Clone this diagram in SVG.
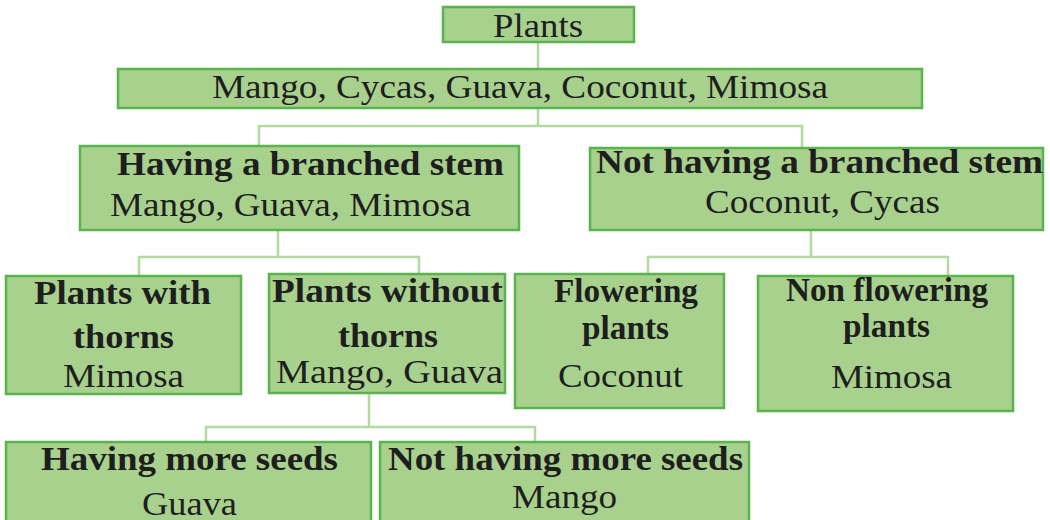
<svg xmlns="http://www.w3.org/2000/svg" width="1050" height="520" viewBox="0 0 1050 520">
<style>
.box{fill:#a9d18e;stroke:#5ab44e;stroke-width:2.5}
.t{font-size:33px;fill:#1e1e1e}
.b{font-weight:bold}
.c{fill:none;stroke:#b3daa0;stroke-width:2.5}
</style>
<rect width="1050" height="520" fill="#ffffff"/>
<g id="connectors">
<path class="c" d="M538 42V69"/>
<path class="c" d="M538 108V126H259V146M538 126H802V148"/>
<path class="c" d="M278 230V257H139V276M278 257H419V274"/>
<path class="c" d="M811 231V257H648V274M811 257H948V276"/>
<path class="c" d="M369 393V427H206V442M369 427H535V442"/>
</g>
<g font-family="Liberation Serif, serif">
<g id="n-plants">
<rect class="box" x="443" y="7" width="191" height="35"/>
<text class="t" x="493" y="37" textLength="90" lengthAdjust="spacingAndGlyphs">Plants</text>
</g>
<g id="n-all">
<rect class="box" x="118" y="69" width="804" height="39"/>
<text class="t" x="212" y="98" textLength="616" lengthAdjust="spacingAndGlyphs">Mango, Cycas, Guava, Coconut, Mimosa</text>
</g>
<g id="n-branched">
<rect class="box" x="80" y="146" width="439" height="84"/>
<text class="t b" x="117" y="175" textLength="387" lengthAdjust="spacingAndGlyphs">Having a branched stem</text>
<text class="t" x="110" y="216" textLength="361" lengthAdjust="spacingAndGlyphs">Mango, Guava, Mimosa</text>
</g>
<g id="n-notbranched">
<rect class="box" x="590" y="148" width="453" height="82"/>
<text class="t b" x="596" y="173" textLength="447" lengthAdjust="spacingAndGlyphs">Not having a branched stem</text>
<text class="t" x="705" y="213" textLength="235" lengthAdjust="spacingAndGlyphs">Coconut, Cycas</text>
</g>
<g id="n-thorns">
<rect class="box" x="6" y="276" width="235" height="118"/>
<text class="t b" x="34" y="304" textLength="177" lengthAdjust="spacingAndGlyphs">Plants with</text>
<text class="t b" x="73" y="348" textLength="101" lengthAdjust="spacingAndGlyphs">thorns</text>
<text class="t" x="63" y="387" textLength="121" lengthAdjust="spacingAndGlyphs">Mimosa</text>
</g>
<g id="n-nothorns">
<rect class="box" x="269" y="274" width="236" height="119"/>
<text class="t b" x="272" y="302" textLength="231" lengthAdjust="spacingAndGlyphs">Plants without</text>
<text class="t b" x="338" y="347" textLength="100" lengthAdjust="spacingAndGlyphs">thorns</text>
<text class="t" x="276" y="383" textLength="227" lengthAdjust="spacingAndGlyphs">Mango, Guava</text>
</g>
<g id="n-flowering">
<rect class="box" x="515" y="274" width="209" height="134"/>
<text class="t b" x="554" y="302" textLength="144" lengthAdjust="spacingAndGlyphs">Flowering</text>
<text class="t b" x="582" y="339" textLength="87" lengthAdjust="spacingAndGlyphs">plants</text>
<text class="t" x="558" y="387" textLength="125" lengthAdjust="spacingAndGlyphs">Coconut</text>
</g>
<g id="n-nonflowering">
<rect class="box" x="758" y="276" width="255" height="135"/>
<text class="t b" x="786" y="301" textLength="202" lengthAdjust="spacingAndGlyphs">Non flowering</text>
<text class="t b" x="843" y="337" textLength="87" lengthAdjust="spacingAndGlyphs">plants</text>
<text class="t" x="831" y="388" textLength="121" lengthAdjust="spacingAndGlyphs">Mimosa</text>
</g>
<g id="n-moreseeds">
<rect class="box" x="6" y="442" width="365" height="90"/>
<text class="t b" x="41" y="470" textLength="297" lengthAdjust="spacingAndGlyphs">Having more seeds</text>
<text class="t" x="142" y="515" textLength="95" lengthAdjust="spacingAndGlyphs">Guava</text>
</g>
<g id="n-notmoreseeds">
<rect class="box" x="380" y="442" width="369" height="90"/>
<text class="t b" x="388" y="470" textLength="355" lengthAdjust="spacingAndGlyphs">Not having more seeds</text>
<text class="t" x="512" y="508" textLength="105" lengthAdjust="spacingAndGlyphs">Mango</text>
</g>
</g>
</svg>
